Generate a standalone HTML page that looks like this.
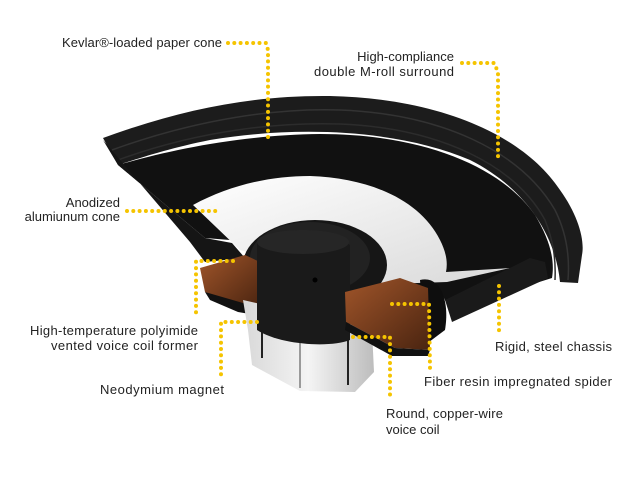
<!DOCTYPE html>
<html><head><meta charset="utf-8"><style>
html,body{margin:0;padding:0;background:#fff;}
svg{display:block}
text{font-family:"Liberation Sans Narrow","Liberation Sans",sans-serif;font-size:13px;fill:#222;}
.d{fill:none;stroke:#f5c400;stroke-width:4;stroke-linecap:round;stroke-dasharray:0 6.3;}
</style></head><body>
<svg width="631" height="481" viewBox="0 0 631 481" xmlns="http://www.w3.org/2000/svg">
<defs>
<linearGradient id="silver" x1="0" y1="0" x2="1" y2="0"><stop offset="0" stop-color="#d8d8d8"/><stop offset="0.5" stop-color="#f4f4f4"/><stop offset="1" stop-color="#bdbdbd"/></linearGradient>
<linearGradient id="wh" x1="0" y1="0" x2="1" y2="1"><stop offset="0" stop-color="#ffffff"/><stop offset="1" stop-color="#d9d9d9"/></linearGradient>
<linearGradient id="br" x1="0" y1="0" x2="1" y2="1"><stop offset="0" stop-color="#a0552a"/><stop offset="1" stop-color="#4a2410"/></linearGradient>
</defs>
<!-- rim / bowl -->
<path d="M103,138 C180,110 250,95 330,96 C430,98 520,130 560,190 C578,215 585,240 582,255 L578,283 L560,282 C555,230 520,185 470,160 C400,130 300,125 210,140 C170,148 140,158 118,165 Z" fill="#1c1c1c"/>
<path d="M112,150 C200,118 280,108 340,110 C440,114 520,150 555,210 C566,232 570,255 568,280" fill="none" stroke="#333" stroke-width="1.5"/>
<path d="M118,160 C200,130 280,122 340,124 C440,128 515,165 545,220 C553,240 556,258 555,280" fill="none" stroke="#2c2c2c" stroke-width="1.5"/>
<path d="M118,165 C170,150 240,135 320,134 C420,134 500,165 535,215 C550,240 555,260 552,278 L450,310 L440,290 L260,255 L230,240 L205,238 Z" fill="#111"/>
<!-- white cone -->
<path d="M193,205 C230,185 270,176 310,176 C370,178 420,200 440,240 C446,252 448,262 446,272 L510,268 L447,282 L360,285 L240,250 Z" fill="url(#wh)"/>
<!-- dome -->
<ellipse cx="315" cy="265" rx="72" ry="45" fill="#161616"/>
<ellipse cx="310" cy="258" rx="60" ry="36" fill="#222"/>
<!-- left chassis arm -->
<path d="M103,140 L118,165 L205,238 L232,243 L245,258 L205,262 L190,242 Z" fill="#151515"/>
<!-- right chassis arm -->
<path d="M445,300 L530,258 L545,262 L548,278 L452,322 Z" fill="#1a1a1a"/>
<path d="M420,280 C440,275 450,300 445,330 L425,345 Z" fill="#0e0e0e"/>
<!-- left spider -->
<path d="M200,268 L245,255 L260,262 L260,308 L232,302 L205,292 Z" fill="url(#br)"/>
<path d="M205,292 L260,308 L262,316 L238,312 L210,300 Z" fill="#111"/>
<!-- magnet -->
<path d="M243,300 L372,330 L374,372 L355,392 L300,391 L252,365 L248,330 Z" fill="url(#silver)"/>
<line x1="300" y1="318" x2="300" y2="388" stroke="#9a9a9a" stroke-width="2"/>
<line x1="262" y1="318" x2="262" y2="358" stroke="#222" stroke-width="2"/>
<line x1="348" y1="340" x2="348" y2="385" stroke="#222" stroke-width="2"/>
<!-- central cylinder -->
<path d="M257,240 C280,232 330,232 350,245 L350,340 C330,348 280,345 257,330 Z" fill="#1a1a1a"/>
<ellipse cx="303" cy="242" rx="46" ry="12" fill="#262626"/>
<circle cx="315" cy="280" r="2.5" fill="#000"/>
<!-- right spider -->
<path d="M345,292 L400,278 L428,288 L430,350 L395,348 L346,322 Z" fill="url(#br)"/>
<path d="M346,322 L395,348 L430,350 L428,356 L392,356 L345,330 Z" fill="#111"/>

<!-- dotted leaders -->
<path class="d" d="M228,43 L266,43 L268,50 L268,142"/>
<path class="d" d="M462,63 L494,63 L498,72 L498,162"/>
<path class="d" d="M127,211 L218,211"/>
<path class="d" d="M233,261 L196,261 L196,316"/>
<path class="d" d="M257,322 L221,322 L221,376"/>
<path class="d" d="M353,337 L390,337 L390,400"/>
<path class="d" d="M392,304 L429,304 L430,368"/>
<path class="d" d="M499,286 L499,332"/>

<!-- labels -->
<text x="222" y="47" text-anchor="end" textLength="160">Kevlar®-loaded paper cone</text>
<text x="454" y="61" text-anchor="end">High-compliance</text>
<text x="454" y="76" text-anchor="end" textLength="140">double M-roll surround</text>
<text x="120" y="207" text-anchor="end">Anodized</text>
<text x="120" y="221" text-anchor="end">alumiunum cone</text>
<text x="198" y="335" text-anchor="end" textLength="168">High-temperature polyimide</text>
<text x="198" y="350" text-anchor="end" textLength="147">vented voice coil former</text>
<text x="224" y="394" text-anchor="end" textLength="124">Neodymium magnet</text>
<text x="495" y="351" textLength="117">Rigid, steel chassis</text>
<text x="424" y="386" textLength="188">Fiber resin impregnated spider</text>
<text x="386" y="418" textLength="117">Round, copper-wire</text>
<text x="386" y="434">voice coil</text>
</svg>
</body></html>
